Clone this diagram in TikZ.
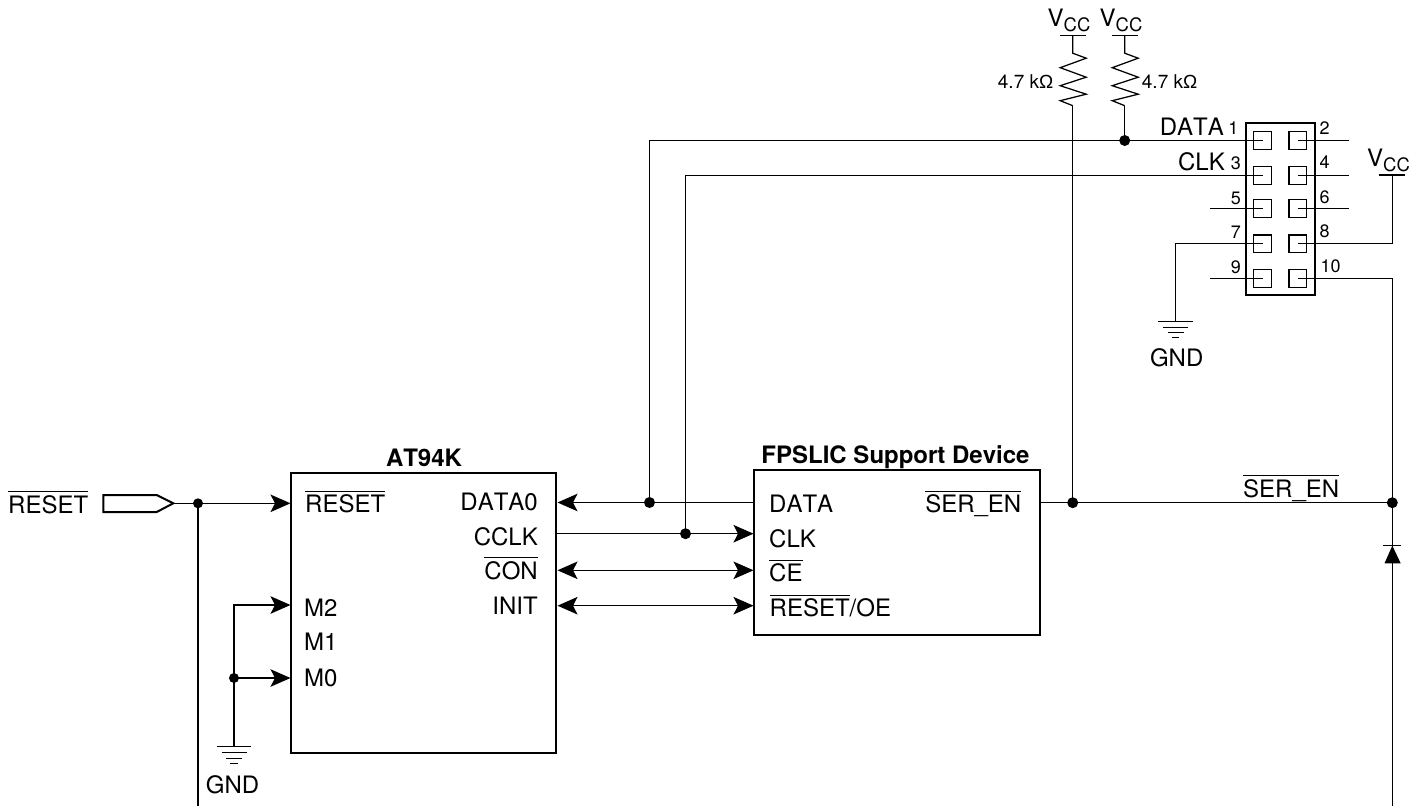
\documentclass[tikz,border=0pt]{standalone}
\usepackage{fontspec}
\setmainfont[Kerning=Off]{TeX Gyre Heros}
\newfontfamily\omegafont{Liberation Sans}
\usetikzlibrary{arrows.meta,calc}
\newcommand\ovl[1]{\setbox0=\hbox{#1}\rlap{\rule[21pt]{\wd0}{1.1pt}}\box0}
\newcommand\vcclabel{V\raisebox{-5.2pt}{\fontsize{18.5}{19}\selectfont CC}}
\tikzset{
  wire/.style={line width=1.25pt,line join=miter},
  sig/.style={wire,-{Stealth[length=20pt,width=17.5pt,inset=4.5pt]}},
  bisig/.style={wire,{Stealth[length=20pt,width=17.5pt,inset=4.5pt]}-{Stealth[length=20pt,width=17.5pt,inset=4.5pt]}},
  chipbox/.style={draw,line width=2pt,rectangle,inner sep=0pt,outer sep=0pt,anchor=north west},
  pinbox/.style={draw,line width=1.2pt,rectangle,inner sep=0pt,minimum width=17.5pt,minimum height=17.5pt},
  dot/.style={circle,fill=black,inner sep=0pt,minimum size=#1},
  dot/.default=10pt,
  lab/.style={inner sep=0pt,font=\fontsize{24}{25}\selectfont},
  blab/.style={inner sep=0pt,font=\fontsize{24}{25}\selectfont\bfseries},
  pinnum/.style={inner sep=0pt,font=\fontsize{18}{19}\selectfont},
  rlab/.style={inner sep=0pt,font=\fontsize{19}{20}\selectfont},
  rail/.style={line width=1.2pt},
  gndbar/.style={line width=1.3pt}
}
\newcommand\resistor[2]{%
  \draw[wire] (#1) -- ++(0,17.5) -- ++(13.5,5) -- ++(-26,9.5) -- ++(26,9.5) -- ++(-26,8.5) -- ++(26,8.5) -- ++(-26,6.5) -- ++(12.5,5) coordinate (#2);}
\newcommand\ground[1]{%
  \draw[gndbar] ($(#1)+(-17.3,0)$) -- ($(#1)+(17.3,0)$);
  \draw[gndbar] ($(#1)+(-12.5,6)$) -- ($(#1)+(12.5,6)$);
  \draw[gndbar] ($(#1)+(-8,11.5)$) -- ($(#1)+(8,11.5)$);
  \draw[gndbar] ($(#1)+(-3.7,16.5)$) -- ($(#1)+(3.7,16.5)$);}
\begin{document}
\begin{tikzpicture}[x=1pt,y=-1pt]
\useasboundingbox (0,0) rectangle (1422,806);
% chips
\node[chipbox,minimum width=265pt,minimum height=280pt] (at94k) at (291.3,473.3) {};
\node[chipbox,minimum width=285.5pt,minimum height=164.7pt] (fpslic) at (754,470) {};
\node[blab,anchor=base] (t1) at (424,466) {AT94K};
\node[blab,anchor=base] (t2) at (895.5,463.3) {FPSLIC Support Device};
% chip labels
\node[lab,anchor=base west] (l1) at (305,512.7) {\ovl{RESET}};
\node[lab,anchor=base west] (l2) at (304,616.7) {M2};
\node[lab,anchor=base west] (l3) at (304,650.7) {M1};
\node[lab,anchor=base west] (l4) at (304,686) {M0};
\node[lab,anchor=base east] (l5) at (538,510.7) {DATA0};
\node[lab,anchor=base east] (l6) at (538,545) {CCLK};
\node[lab,anchor=base east] (l7) at (538,579.3) {\ovl{CON}};
\node[lab,anchor=base east] (l8) at (538,614) {INIT};
\node[lab,anchor=base west] (l9) at (769,512.7) {DATA};
\node[lab,anchor=base west] (l10) at (769,547.3) {CLK};
\node[lab,anchor=base west] (l11) at (769,581.7) {\ovl{CE}};
\node[lab,anchor=base west] (l12) at (769.5,616.7) {\ovl{RESET}/OE};
\node[lab,anchor=base east] (l13) at (1021.5,512.7) {\ovl{SER\_EN}};
\node[lab,anchor=base west] (l14) at (1243,497.3) {\ovl{SER\_EN}};
\node[lab,anchor=base west] (l15) at (8,513.3) {\ovl{RESET}};
\node[lab,anchor=base] (gnd1) at (232.5,793) {GND};
\node[lab,anchor=base] (gnd2) at (1176.7,366) {GND};
% input port
\draw[line width=2pt,line join=miter] (103.3,495) coordinate (pa) -- (156.7,495) -- (173.3,503.3) coordinate (porttip) -- (156.7,512) -- (103.3,512) -- cycle;
% junctions
\node[dot] (jreset) at (198,503.3) {};
\node[dot] (jm) at (234,678) {};
\node[dot=11pt] (jdata) at (649.5,502.5) {};
\node[dot=11pt] (jclk) at (685.5,533.7) {};
\node[dot=11pt] (jser) at (1072.7,502.7) {};
\node[dot=11pt] (jdio) at (1392.3,502.7) {};
\node[dot=11pt] (jpull) at (1124.7,140.5) {};
% chip pins
\coordinate (aReset) at (290.5,503.3);
\coordinate (aM2) at (290.5,605);
\coordinate (aM0) at (290.5,678);
\coordinate (aData) at (557.5,502.5);
\coordinate (aClk) at (557,533.7);
\coordinate (aCon) at (557.5,570.3);
\coordinate (aInit) at (557.5,605.7);
\coordinate (fData) at (754,502.5);
\coordinate (fClk) at (753.5,533.7);
\coordinate (fCe) at (753.5,570.3);
\coordinate (fRst) at (753.5,605.7);
\coordinate (fSer) at (1040,502.7);
% left side wires
\draw[sig] (porttip) -- (jreset.center) -- (aReset);
\draw[wire] (jreset.center) -- (198,806) coordinate (rbot);
\coordinate (g1) at (234,746.7);
\draw[sig] (g1) -- (jm.center) -- (234,605) -- (aM2);
\draw[sig] (jm.center) -- (aM0);
\ground{g1}
% bus
\draw[sig] (fData) -- (aData);
\draw[sig] (aClk) -- (fClk);
\draw[bisig] (aCon) -- (fCe);
\draw[bisig] (aInit) -- (fRst);
% connector
\node[draw,line width=2.2pt,rectangle,inner sep=0pt,outer sep=0pt,minimum width=69.3pt,minimum height=172.6pt,anchor=north west] (hdr) at (1246,122.7) {};
\foreach \n/\x/\y in {1/1262.5/140.5,3/1262.5/175.5,5/1262.5/208.5,7/1262.5/243.7,9/1262.5/278.5,2/1297.7/140.5,4/1297.7/175.5,6/1297.7/208.5,8/1297.7/243.7,10/1297.7/278.5}{
  \node[pinbox] (p\n) at (\x,\y) {};
  \coordinate (c\n) at (\x,\y);
}
\node[pinnum,anchor=base east] (n1) at (1238.5,134) {1};
\node[pinnum,anchor=base east] (n3) at (1241,169.3) {3};
\node[pinnum,anchor=base east] (n5) at (1241,204.3) {5};
\node[pinnum,anchor=base east] (n7) at (1241,238.3) {7};
\node[pinnum,anchor=base east] (n9) at (1241,273.3) {9};
\node[pinnum,anchor=base west] (n2) at (1319.5,134) {2};
\node[pinnum,anchor=base west] (n4) at (1319.5,168.3) {4};
\node[pinnum,anchor=base west] (n6) at (1319.5,203.3) {6};
\node[pinnum,anchor=base west] (n8) at (1319.5,237.7) {8};
\node[pinnum,anchor=base west] (n10) at (1320.5,272.7) {10};
\node[lab,anchor=base east] (ldata) at (1224,135.7) {DATA};
\node[lab,anchor=base east] (lclk) at (1225,170) {CLK};
% connector wires
\draw[wire] (jdata.center) -- (649.5,140.5) -- (c1);
\draw[wire] (jclk.center) -- (685.5,175.5) -- (c3);
\draw[wire] (c2) -- (1349.3,140.5) coordinate (e2);
\draw[wire] (c4) -- (1349.3,175.5) coordinate (e4);
\draw[wire] (c6) -- (1349.3,208.5) coordinate (e6);
\draw[wire] (c5) -- (1210,208.5) coordinate (e5);
\draw[wire] (c9) -- (1210,278.5) coordinate (e9);
\coordinate (g2) at (1175.7,321.3);
\draw[wire] (c7) -- (1175.7,243.7) -- (g2);
\ground{g2}
% Vcc rails
\coordinate (v1) at (1072.7,35.7);
\coordinate (v2) at (1124.7,35.7);
\coordinate (v3) at (1392.3,175);
\draw[rail] (1060,35.7) -- (1086,35.7);
\draw[rail] (1112,35.7) -- (1138,35.7);
\draw[rail] (1378.7,175) -- (1405,175);
\node[lab,anchor=base west] (vc1) at (1047.5,26.7) {\vcclabel};
\node[lab,anchor=base west] (vc2) at (1099.5,26.7) {\vcclabel};
\node[lab,anchor=base west] (vc3) at (1367,166) {\vcclabel};
\draw[wire] (c8) -- (1392.3,243.7) -- (v3);
\resistor{v1}{r1}
\resistor{v2}{r2}
\draw[wire] (r1) -- (jser.center);
\draw[wire] (r2) -- (jpull.center);
\node[rlab,anchor=base east] (rl1) at (1053.5,88) {4.7 k{\omegafont Ω}};
\node[rlab,anchor=base west] (rl2) at (1141.7,88.3) {4.7 k{\omegafont Ω}};
% SER_EN and diode
\draw[wire] (fSer) -- (jser.center) -- (jdio.center);
\draw[wire] (c10) -- (1392.3,278.5) -- (jdio.center) -- (1392.3,806) coordinate (dbot);
\coordinate (dtop) at (1392.3,545.7);
\draw[line width=1.4pt] (1383.3,545.7) -- (1401,545.7);
\fill (dtop) -- (1400.7,563.3) -- (1384.5,563.3) -- cycle;
\end{tikzpicture}
\end{document}
